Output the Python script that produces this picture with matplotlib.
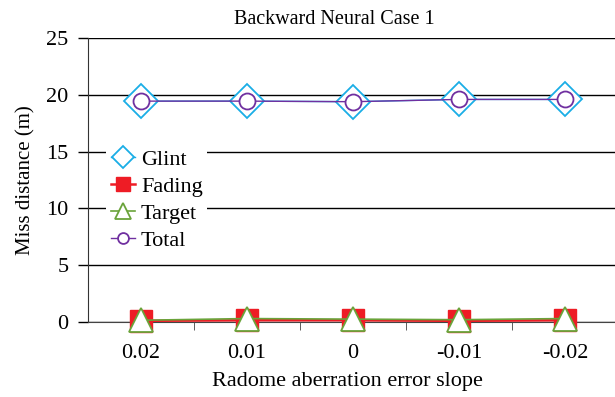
import matplotlib
matplotlib.rcParams["font.family"] = ["Liberation Serif", "DejaVu Serif"]
matplotlib.rcParams["font.size"] = 12
matplotlib.use("Agg")
import matplotlib.pyplot as plt
import numpy as np

# data
slopes = ["0.02", "0.01", "0", "-0.01", "-0.02"]
glint = [19.45, 19.45, 19.4, 19.6, 19.6]
fading = [0.1, 0.15, 0.15, 0.1, 0.15]
target = [0.15, 0.3, 0.25, 0.2, 0.3]
total = [19.45, 19.45, 19.4, 19.6, 19.6]

fig = plt.figure(figsize=(6.15, 3.97), dpi=100)
ax = fig.add_axes([0.143, 0.189, 0.862, 0.715])

x = np.arange(len(slopes))
ax.plot(x, glint, color="#1AAEE6", lw=1.0, marker="D", ms=17, mfc="white",
        mec="#1AAEE6", mew=1.3, label="Glint", zorder=4, clip_on=False)
ax.plot(x, fading, color="#EE1C25", lw=1.8, marker="s", ms=15.5, mfc="#EE1C25",
        mec="#EE1C25", label="Fading", zorder=4, clip_on=False)
ax.plot(x, target, color="#6AA33A", lw=1.2, marker="^", ms=17, mfc="white",
        mec="#6AA33A", mew=1.3, label="Target", zorder=5, clip_on=False)
ax.plot(x, total, color="#7030A0", lw=1.0, marker="o", ms=11.5, mfc="white",
        mec="#7030A0", mew=1.3, label="Total", zorder=5, clip_on=False)

ax.set_xlim(-0.5, len(slopes) - 0.5)
ax.set_ylim(0, 25)
ax.set_yticks(np.arange(0, 26, 5))
ax.yaxis.grid(True, color="black", lw=1.0)
ax.set_axisbelow(True)
ax.tick_params(axis="y", length=7, width=1.0, color="black", labelsize=16, pad=7)
ax.set_xticks(x)
ax.set_xticklabels(slopes, fontsize=16)
ax.tick_params(axis="x", which="major", length=0, pad=16)
ax.set_xticks(np.arange(0.5, len(slopes) - 1, 1), minor=True)
ax.tick_params(axis="x", which="minor", length=6, direction="out", color="#444444")

for s in ["top", "right"]:
    ax.spines[s].set_visible(False)
ax.spines["left"].set_color("#333333")
ax.spines["bottom"].set_color("#444444")

ax.set_xlabel("Radome aberration error slope", fontsize=16, labelpad=6, x=0.49)
ax.set_ylabel("Miss distance (m)", fontsize=15, labelpad=8)
ax.set_title("Backward Neural Case 1", fontsize=14.5, pad=10, x=0.464)

leg = ax.legend(loc="upper left", bbox_to_anchor=(0.035, 0.625), frameon=True,
                framealpha=1, edgecolor="none", fancybox=False, fontsize=16,
                markerscale=0.68, handlelength=1.1, handletextpad=0.25,
                labelspacing=0.3, borderpad=0.2, borderaxespad=0)

fig.savefig("out.png", dpi=100)
